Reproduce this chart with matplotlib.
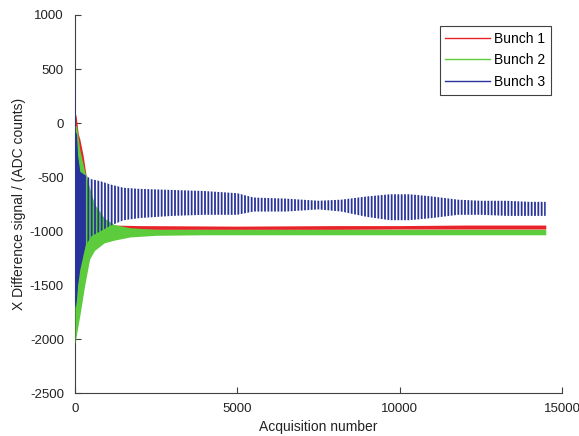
import matplotlib

matplotlib.use("Agg")
import matplotlib.pyplot as plt
from matplotlib.lines import Line2D

plt.rcParams["font.family"] = ["Liberation Sans", "DejaVu Sans"]
plt.rcParams["font.size"] = 10
plt.rcParams["axes.unicode_minus"] = False
plt.rcParams["hatch.linewidth"] = 1.3

# Envelopes (upper / lower), per bunch, vs acquisition number.
red_x = [0, 30, 100, 150, 250, 400, 600, 900, 1200, 2000, 5000, 8000, 10000, 12000, 14500]
red_hi = [50, 80, -100, -150, -300, -600, -800, -930, -945, -950, -955, -950, -950, -945, -945]
red_lo = [-2000, -1800, -1500, -1250, -1100, -1050, -1010, -990, -985, -985, -985, -985, -982, -982, -982]

green_x = [0, 50, 150, 300, 450, 600, 900, 1200, 1700, 2500, 4000, 8000, 12000, 14500]
green_hi = [-20, -30, -250, -450, -600, -750, -880, -940, -970, -985, -985, -985, -985, -985]
green_lo = [-2050, -1950, -1780, -1500, -1260, -1180, -1110, -1085, -1055, -1040, -1035, -1035, -1035, -1035]

blue_x = [0, 15, 40, 80, 150, 300, 500, 800, 1100, 1500, 2000, 3000, 4000, 5000, 5500,
          6500, 7500, 8200, 9000, 9700, 10300, 11000, 11800, 12500, 13300, 14000, 14500]
blue_hi = [450, -100, -80, -300, -450, -480, -520, -540, -570, -600, -610, -620, -630, -650, -690,
           -700, -720, -710, -680, -660, -660, -680, -710, -720, -720, -730, -730]
blue_lo = [-1700, -1700, -1650, -1500, -1350, -1150, -1050, -1000, -950, -900, -880, -860, -850, -850, -820,
           -820, -800, -820, -870, -900, -900, -880, -850, -850, -860, -860, -860]

# The first few hundred acquisitions of bunch 3 are a solid smear.
blue_dense_end = 300

labels = ["Bunch 1", "Bunch 2", "Bunch 3"]
c_red = "#e8232a"
c_green = "#5ccc3c"
c_blue = "#27339a"

fig = plt.figure(figsize=(5.79, 4.36), dpi=100)
ax = fig.add_axes([75 / 579, 1 - 393 / 436, 487 / 579, 378 / 436])

ax.fill_between(red_x, red_lo, red_hi, color=c_red, lw=0, zorder=2)
ax.fill_between(green_x, green_lo, green_hi, color=c_green, lw=0, zorder=3)
ax.fill_between(blue_x, blue_lo, blue_hi, facecolor="none", edgecolor=c_blue,
                hatch="|" * 5, lw=0, zorder=4)
dense = [i for i, x in enumerate(blue_x) if x <= blue_dense_end]
ax.fill_between([blue_x[i] for i in dense], [blue_lo[i] for i in dense],
                [blue_hi[i] for i in dense], color=c_blue, lw=0, zorder=4)

ax.set_xlim(0, 15000)
ax.set_ylim(-2500, 1000)
ax.set_xticks([0, 5000, 10000, 15000])
ax.set_yticks(range(-2500, 1001, 500))
ax.tick_params(direction="in", length=4, color="#404040", labelcolor="#222222",
               labelsize=9.5)
ax.tick_params(axis="x", pad=7)
ax.tick_params(axis="y", pad=8)
for side in ("top", "right"):
    ax.spines[side].set_visible(False)
for side in ("left", "bottom"):
    ax.spines[side].set_color("#404040")
ax.set_xlabel("Acquisition number", color="#222222", labelpad=4)
ax.set_ylabel("X Difference signal / (ADC counts)", color="#222222", labelpad=3)

handles = [Line2D([], [], color=c, lw=1) for c in (c_red, c_green, c_blue)]
leg = ax.legend(handles, labels, loc="upper right", fancybox=False, framealpha=1,
                edgecolor="#404040", borderaxespad=0.8, handlelength=3.2,
                handletextpad=0.3, labelspacing=0.55, borderpad=0.4)
leg.get_frame().set_linewidth(0.8)

fig.savefig("out.png", dpi=100)
